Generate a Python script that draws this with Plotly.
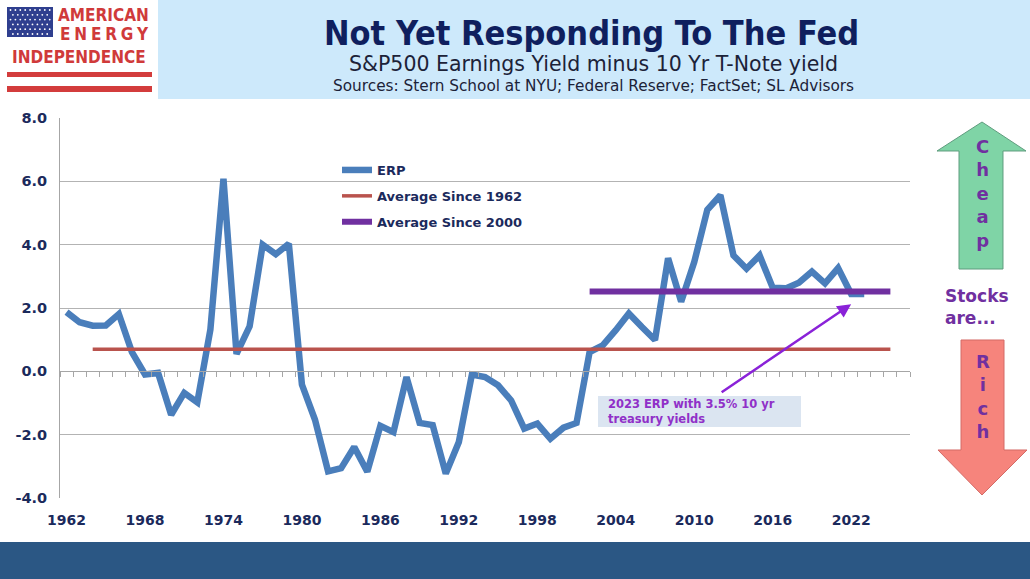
import plotly.graph_objects as go

# ---------------- data ----------------
erp_years = list(range(1962, 2024))
erp_values = [1.87, 1.55, 1.44, 1.45, 1.81, 0.61, -0.10, -0.05, -1.37, -0.68,
              -0.98, 1.32, 6.08, 0.55, 1.42, 4.00, 3.70, 4.03, -0.42, -1.53,
              -3.16, -3.06, -2.39, -3.17, -1.72, -1.92, -0.18, -1.63, -1.70, -3.23,
              -2.23, -0.10, -0.18, -0.44, -0.92, -1.81, -1.65, -2.13, -1.78, -1.63,
              0.61, 0.82, 1.30, 1.83, 1.40, 0.99, 3.57, 2.20, 3.45, 5.10,
              5.56, 3.66, 3.24, 3.66, 2.64, 2.62, 2.80, 3.15, 2.78, 3.26,
              2.44, 2.44]
avg1962_years = [1964, 2025]
avg1962_values = [0.70, 0.70]
avg2000_years = [2002, 2025]
avg2000_values = [2.52, 2.52]
xtick_years = [1962, 1968, 1974, 1980, 1986, 1992, 1998, 2004, 2010, 2016, 2022]
ytick_values = [-4, -2, 0, 2, 4, 6, 8]
ytick_labels = ["-4.0", "-2.0", "0.0", "2.0", "4.0", "6.0", "8.0"]
annot_point = (2022, 2.12)

# ---------------- layout helpers ----------------
W, H = 1030, 579
L, R, T, B = 60, 910, 118, 498


def px(x):
    return (x - L) / (R - L)


def py(y):
    return (B - y) / (B - T)


NAVY = "#1b2a5c"
PURPLE = "#7030a0"
FONT = "DejaVu Sans"
COND = "DejaVu Sans Condensed, DejaVu Sans"

fig = go.Figure()
fig.add_trace(go.Scatter(x=erp_years, y=erp_values, mode="lines", name="ERP",
                         legendgroup="a",
                         line=dict(color="#4a7ebb", width=6.5)))
fig.add_trace(go.Scatter(x=avg1962_years, y=avg1962_values, mode="lines",
                         name="Average Since 1962", legendgroup="b",
                         line=dict(color="#b9534d", width=3.5)))
fig.add_trace(go.Scatter(x=avg2000_years, y=avg2000_values, mode="lines",
                         name="Average Since 2000", legendgroup="c",
                         line=dict(color="#7030a0", width=6)))
# invisible trace to carry the zero-crossing category axis
fig.add_trace(go.Scatter(x=erp_years, y=erp_values, mode="lines", xaxis="x2",
                         showlegend=False, hoverinfo="skip", opacity=0,
                         line=dict(width=0)))

shapes = []
annotations = []

# header band
shapes.append(dict(type="rect", xref="paper", yref="paper",
                   x0=px(158), x1=px(1030), y0=py(99), y1=py(0),
                   fillcolor="#cde9fb", line=dict(width=0), layer="below"))
# bottom band
shapes.append(dict(type="rect", xref="paper", yref="paper",
                   x0=px(0), x1=px(1030), y0=py(579), y1=py(542),
                   fillcolor="#2b5784", line=dict(width=0), layer="below"))

# logo flag
shapes.append(dict(type="rect", xref="paper", yref="paper",
                   x0=px(7), x1=px(53), y0=py(37), y1=py(7),
                   fillcolor="#2f3f8f", line=dict(width=0)))
for r in range(6):
    for c in range(9):
        cx = 10.5 + c * 4.9 + (2.4 if r % 2 else 0)
        cy = 10 + r * 4.8
        if cx > 51:
            continue
        shapes.append(dict(type="circle", xref="paper", yref="paper",
                           x0=px(cx - 0.9), x1=px(cx + 0.9),
                           y0=py(cy + 0.9), y1=py(cy - 0.9),
                           fillcolor="white", line=dict(width=0)))
for y0s, y1s in [(72, 77), (86, 92)]:
    shapes.append(dict(type="rect", xref="paper", yref="paper",
                       x0=px(7), x1=px(152), y0=py(y1s), y1=py(y0s),
                       fillcolor="#d33c3c", line=dict(width=0)))
LOGO_RED = "#d03a3a"
annotations.append(dict(text="AMERICAN", xref="paper", yref="paper",
                        x=px(151), y=py(15), xanchor="right", yanchor="middle",
                        showarrow=False,
                        font=dict(family=COND, size=17, color=LOGO_RED, weight="bold")))
annotations.append(dict(text="E\u2005N\u2005E\u2005R\u2005G\u2005Y", xref="paper", yref="paper",
                        x=px(151), y=py(34), xanchor="right", yanchor="middle",
                        showarrow=False,
                        font=dict(family=COND, size=17, color=LOGO_RED, weight="bold")))
annotations.append(dict(text="INDEPENDENCE", xref="paper", yref="paper",
                        x=px(79), y=py(57), xanchor="center", yanchor="middle",
                        showarrow=False,
                        font=dict(family=COND, size=17, color=LOGO_RED, weight="bold")))

# titles
annotations.append(dict(text="Not Yet Responding To The Fed", xref="paper", yref="paper",
                        x=px(591), y=py(33), xanchor="center", yanchor="middle",
                        showarrow=False,
                        font=dict(family=COND, size=34, color="#0f1f5e", weight="bold")))
annotations.append(dict(text="S&amp;P500 Earnings Yield minus 10 Yr T-Note yield",
                        xref="paper", yref="paper",
                        x=px(593), y=py(64), xanchor="center", yanchor="middle",
                        showarrow=False,
                        font=dict(family=FONT, size=20.5, color="#1c2238")))
annotations.append(dict(text="Sources: Stern School at NYU; Federal Reserve; FactSet; SL Advisors",
                        xref="paper", yref="paper",
                        x=px(593), y=py(86), xanchor="center", yanchor="middle",
                        showarrow=False,
                        font=dict(family=FONT, size=15.3, color="#1c2238")))

# annotation box + arrow
shapes.append(dict(type="rect", xref="paper", yref="paper",
                   x0=px(598), x1=px(801), y0=py(427), y1=py(396),
                   fillcolor="#dbe5f1", line=dict(width=0)))
annotations.append(dict(text="2023 ERP with 3.5% 10 yr<br>treasury yields",
                        xref="paper", yref="paper",
                        x=px(606), y=py(411.5), xanchor="left", yanchor="middle",
                        align="left", showarrow=False,
                        font=dict(family=FONT, size=11.5, color="#9030c8", weight="bold")))
annotations.append(dict(text="", x=annot_point[0], y=annot_point[1], xref="x", yref="y",
                        showarrow=True, ax=-131, ay=89, axref="pixel", ayref="pixel",
                        arrowhead=2, arrowsize=1.1, arrowwidth=2.5, arrowcolor="#8a22d8"))

# right side arrows


def path(points):
    s = "M " + " L ".join(f"{px(a):.5f},{py(b):.5f}" for a, b in points) + " Z"
    return s


shapes.append(dict(type="path", xref="paper", yref="paper",
                   path=path([(982, 122), (1026, 151), (1003, 151), (1003, 269),
                              (959, 269), (959, 151), (937, 151)]),
                   fillcolor="#7fd4a6", line=dict(color="#5f9c7e", width=1)))
shapes.append(dict(type="path", xref="paper", yref="paper",
                   path=path([(961, 340), (1004, 340), (1004, 450), (1027, 450),
                              (982, 495), (938, 450), (961, 450)]),
                   fillcolor="#f6847c", line=dict(color="#d46a66", width=1)))
annotations.append(dict(text="C<br>h<br>e<br>a<br>p", xref="paper", yref="paper",
                        x=px(982), y=py(193), xanchor="center", yanchor="middle",
                        showarrow=False,
                        font=dict(family=FONT, size=18, color=PURPLE, weight="bold")))
annotations.append(dict(text="R<br>i<br>c<br>h", xref="paper", yref="paper",
                        x=px(983), y=py(396), xanchor="center", yanchor="middle",
                        showarrow=False,
                        font=dict(family=FONT, size=18, color=PURPLE, weight="bold")))
annotations.append(dict(text="Stocks<br>are...", xref="paper", yref="paper",
                        x=px(943), y=py(306.5), xanchor="left", yanchor="middle",
                        align="left", showarrow=False,
                        font=dict(family=FONT, size=17, color=PURPLE, weight="bold")))

xr = [1961.5, 2026.5]
fig.update_layout(
    width=W, height=H, autosize=False,
    margin=dict(l=L, r=W - R, t=T, b=H - B, pad=0),
    paper_bgcolor="white", plot_bgcolor="white",
    showlegend=True,
    legend=dict(x=px(337), y=py(155), xanchor="left", yanchor="top",
                bgcolor="rgba(0,0,0,0)", tracegroupgap=6, itemwidth=30,
                font=dict(family=FONT, size=13, color=NAVY, weight="bold")),
    xaxis=dict(range=xr, tickmode="array", tickvals=xtick_years,
               ticktext=[str(v) for v in xtick_years],
               showgrid=False, zeroline=False, showline=False, ticks="",
               tickfont=dict(family=FONT, size=14, color=NAVY, weight="bold"),
               ticklabelstandoff=12),
    xaxis2=dict(range=xr, overlaying="x", anchor="free", position=py(371),
                tickmode="linear", tick0=1961.5, dtick=1, ticks="outside",
                ticklen=5, tickcolor="#a6a6a6", tickwidth=1,
                showline=True, linecolor="#a6a6a6", linewidth=1,
                showgrid=False, zeroline=False, showticklabels=False),
    yaxis=dict(range=[-4, 8], tickmode="array", tickvals=ytick_values,
               ticktext=ytick_labels, showgrid=True, gridcolor="#b3b3b3", gridwidth=1,
               zeroline=False, showline=True, linecolor="#a6a6a6", linewidth=1,
               ticks="", ticklabelstandoff=9,
               tickfont=dict(family=FONT, size=14.5, color=NAVY, weight="bold")),
    shapes=shapes,
    annotations=annotations,
)

fig.write_html("out.html", config={"displayModeBar": False},
               post_script="document.body.style.margin='0px';")
